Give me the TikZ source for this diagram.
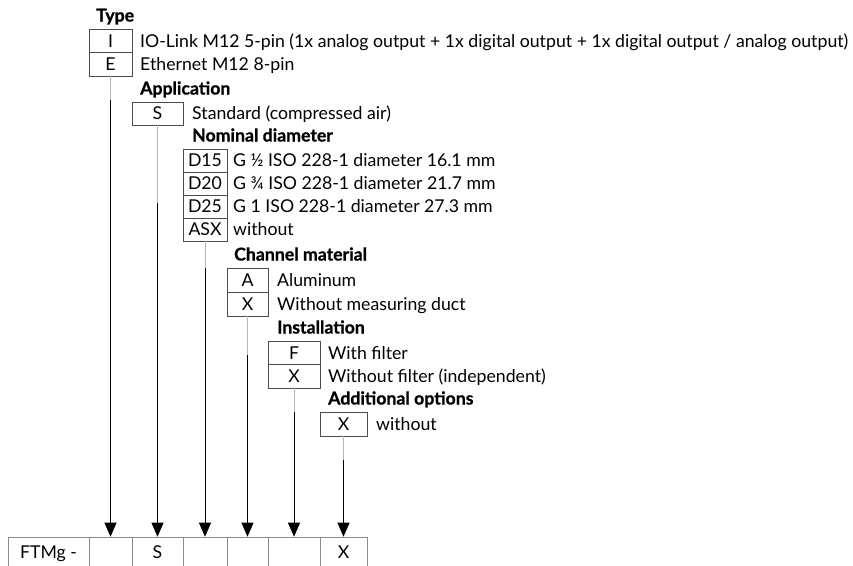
\documentclass[tikz,border=0pt]{standalone}
\usepackage{fontspec}
\setmainfont{Lato}
\newfontfamily\headfont{Lato}[BoldFeatures={FakeBold=0.8}]
\usetikzlibrary{arrows.meta}
\newlength\reflen
\AtBeginDocument{%
  \settowidth\reflen{\fontsize{10pt}{12pt}\selectfont IO-Link M12 5-pin (1x analog output + 1x digital output + 1x digital output / analog output)}%
  \pgfmathsetmacro\fs{10*708/\reflen}%
  \pgfmathsetmacro\capht{0.72*\fs}%
}
\begin{document}
\begin{tikzpicture}[x=1pt,y=-1pt]
\tikzset{
  base/.style={inner sep=0pt, font=\fontsize{\fs pt}{\fs pt}\selectfont, text height=\capht pt, text depth=0pt},
  box/.style={base, draw=black!70, line width=0.6pt, minimum width=#1, anchor=center},
  cell/.style={base, draw=black!45, line width=0.6pt, minimum width=#1, minimum height=30pt, anchor=center},
  txt/.style={base, anchor=west},
  head/.style={base, anchor=base west, font=\fontsize{\fs pt}{\fs pt}\selectfont\headfont\bfseries},
  lead/.style={draw=black!28, line width=0.8pt},
  arr/.style={draw=black, line width=0.8pt, -{Triangle[width=12pt,length=14pt]}},
}
\useasboundingbox (0,0) rectangle (853,565);
% Type
\node[head] (hType) at (96,21.5) {Type};
\node[box=43pt, minimum height=23.5pt] (tI) at (110.5,40.75) {I};
\node[box=43pt, minimum height=23.5pt] (tE) at (110.5,64.25) {E};
\node[txt] (tIt) at (140,40.75) {IO-Link M12 5-pin (1x analog output + 1x digital output + 1x digital output / analog output)};
\node[txt] (tEt) at (140,64.25) {Ethernet M12 8-pin};
% Application
\node[head] (hApp) at (140,94.5) {Application};
\node[box=51pt, minimum height=23pt] (aS) at (157.5,113.5) {S};
\node[txt] (aSt) at (192,113.5) {Standard (compressed air)};
% Nominal diameter
\node[head] (hNom) at (192,141.5) {Nominal diameter};
\node[box=44pt, minimum height=23pt] (d1) at (205,160.5) {D15};
\node[box=44pt, minimum height=23pt] (d2) at (205,183.5) {D20};
\node[box=44pt, minimum height=23pt] (d3) at (205,206.5) {D25};
\node[box=44pt, minimum height=23pt] (d4) at (205,229.5) {ASX};
\node[txt] (d1t) at (233,160.5) {G ½ ISO 228-1 diameter 16.1 mm};
\node[txt] (d2t) at (233,183.5) {G ¾ ISO 228-1 diameter 21.7 mm};
\node[txt] (d3t) at (233,206.5) {G 1 ISO 228-1 diameter 27.3 mm};
\node[txt] (d4t) at (233,229.5) {without};
% Channel material
\node[head] (hCh) at (234,260.5) {Channel material};
\node[box=41pt, minimum height=24pt] (mA) at (247.5,280) {A};
\node[box=41pt, minimum height=24pt] (mX) at (247.5,304) {X};
\node[txt] (mAt) at (277,280) {Aluminum};
\node[txt] (mXt) at (277,304) {Without measuring duct};
% Installation
\node[head] (hIn) at (277,333.5) {Installation};
\node[box=52pt, minimum height=23.5pt] (iF) at (294,352.75) {F};
\node[box=52pt, minimum height=23.5pt] (iX) at (294,376.25) {X};
\node[txt] (iFt) at (328,352.75) {With filter};
\node[txt] (iXt) at (328,376.25) {Without filter (independent)};
% Additional options
\node[head] (hAd) at (328,404.5) {Additional options};
\node[box=47pt, minimum height=24pt] (oX) at (343.5,424) {X};
\node[txt] (oXt) at (376,424) {without};
% bottom row
\node[cell=81pt] (c0) at (48.5,552) {FTMg -};
\node[cell=43pt] (c1) at (110.5,552) {};
\node[cell=51pt] (c2) at (157.5,552) {S};
\node[cell=44pt] (c3) at (205,552) {};
\node[cell=41pt] (c4) at (247.5,552) {};
\node[cell=52pt] (c5) at (294,552) {};
\node[cell=47pt] (c6) at (343.5,552) {X};
% connectors
\coordinate (g1) at (110.5,100);
\coordinate (g2) at (157.5,203);
\coordinate (g3) at (205,268);
\coordinate (g4) at (247.5,355);
\coordinate (g5) at (294,412);
\coordinate (g6) at (343.5,460);
\draw[lead] (tE.south) -- (g1);
\draw[lead] (aS.south) -- (g2);
\draw[lead] (d4.south) -- (g3);
\draw[lead] (mX.south) -- (g4);
\draw[lead] (iX.south) -- (g5);
\draw[lead] (oX.south) -- (g6);
\draw[arr] (g1) -- (c1.north);
\draw[arr] (g2) -- (c2.north);
\draw[arr] (g3) -- (c3.north);
\draw[arr] (g4) -- (c4.north);
\draw[arr] (g5) -- (c5.north);
\draw[arr] (g6) -- (c6.north);
\end{tikzpicture}
\end{document}
